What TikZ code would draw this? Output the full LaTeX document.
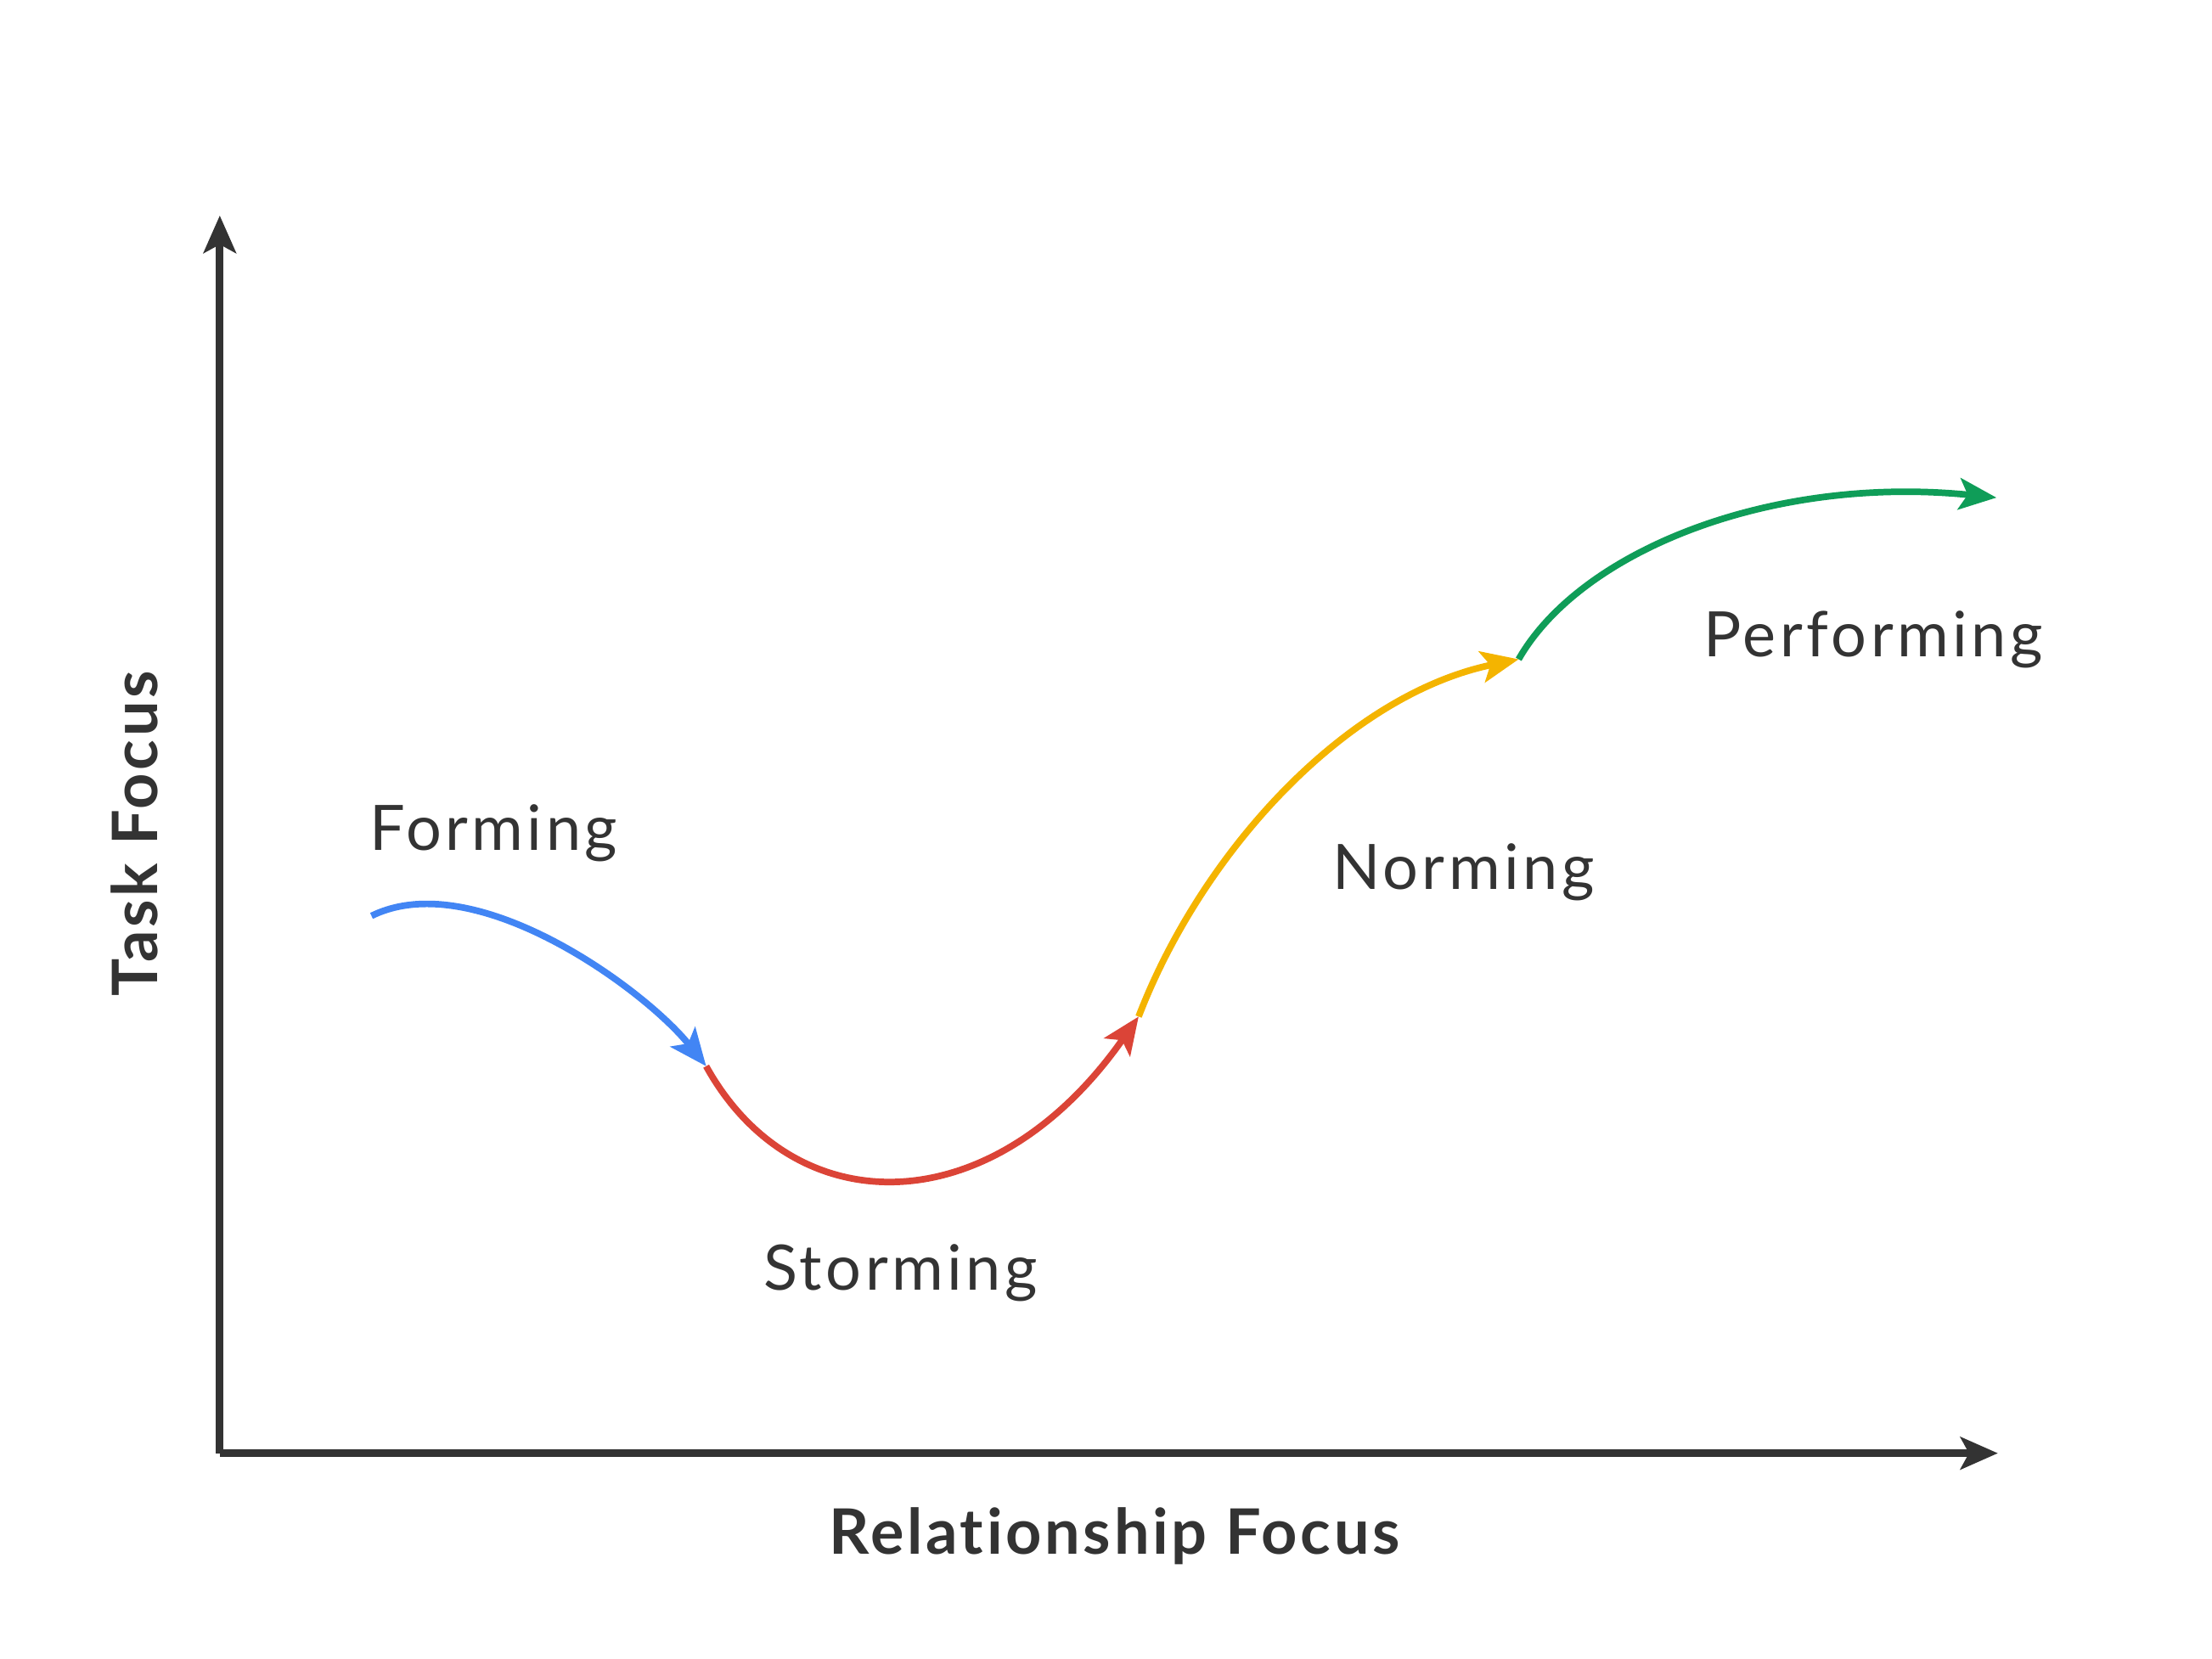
\documentclass[tikz,border=0pt]{standalone}
\usepackage{fontspec}
\setmainfont{Lato}[Ligatures=NoCommon]
\usetikzlibrary{arrows.meta, positioning}
\definecolor{axisgray}{HTML}{333333}
\definecolor{formblue}{HTML}{4285F4}
\definecolor{stormred}{HTML}{DB4437}
\definecolor{normyellow}{HTML}{F4B400}
\definecolor{perfgreen}{HTML}{0F9D58}
\tikzset{
	stage/.style={anchor=base, inner sep=0pt, text=axisgray, font=\fontsize{21}{25}\selectfont\addfontfeatures{LetterSpace=6}},
	axislabel/.style={anchor=base, inner sep=0pt, text=axisgray, font=\fontsize{21}{25}\selectfont\bfseries\addfontfeatures{LetterSpace=5}},
	% curve pieces and axes
	phase/.style={line width=2.2pt, -{Stealth[length=0.44cm, width=0.37cm, inset=0.1cm]}},
	axis/.style={line width=2.5pt, axisgray, -{Stealth[length=0.44cm, width=0.38cm, inset=0.1cm]}},
}

\begin{document}
\begin{tikzpicture}[x=0.01669cm, y=-0.01669cm]
		\useasboundingbox (0,0) rectangle (1560,1170);
		
		\coordinate (origin) at (155,1025);
		\coordinate (ytop) at (155,152);
		\coordinate (xend) at (1409,1025);
		
		\coordinate (p0) at (262,646);
		\coordinate (p1) at (498,752);
		\coordinate (p2) at (803,717);
		\coordinate (p3) at (1071,465);
		\coordinate (p4) at (1408,351);
		
		\node (forming) [stage] at (348,600) {Forming};
		\node (storming) [stage] at (635,910) {Storming};
		\node (norming) [stage] at (1032,627) {Norming};
		\node (performing) [stage] at (1321,463) {Performing};
		
		\node (xlabel) [axislabel] at (786,1096) {Relationship Focus};
		\node (ylabel) [axislabel, rotate=90] at (111,588) {Task Focus};
		
		\draw[axis] (origin) -- (ytop);
		\draw[axis] (origin) -- (xend);
		
		\begin{scope}[phase]
			\draw[formblue] (p0) .. controls (335,610) and (455,698) .. (p1);
			\draw[stormred] (p1) .. controls (560,864) and (700,864) .. (p2);
			\draw[normyellow] (p2) .. controls (848,600) and (950,490) .. (p3);
			\draw[perfgreen] (p3) .. controls (1115,388) and (1250,335) .. (p4);
		\end{scope}
	\end{tikzpicture}
\end{document}
